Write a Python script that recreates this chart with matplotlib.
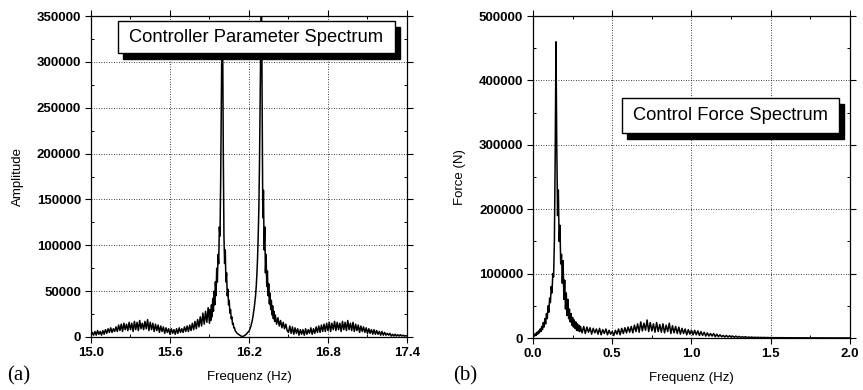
import matplotlib
matplotlib.use("Agg")
import matplotlib.pyplot as plt
import matplotlib.transforms as mtransforms
from matplotlib.patches import Rectangle
from matplotlib.ticker import MultipleLocator, FormatStrFormatter
import numpy as np

plt.rcParams["font.family"] = ["Liberation Sans", "DejaVu Sans"]

# ---- (a) controller parameter spectrum, amplitude in thousands ----
a_base1 = [1, 5, 2, 6, 2, 7, 3, 6, 2, 7,
           3, 8, 4, 9, 5, 10, 5, 9, 6, 11,
           6, 13, 7, 14, 6, 15, 8, 14, 7, 16,
           8, 15, 6, 17, 8, 16, 7, 18, 9, 15,
           8, 17, 9, 19, 7, 16, 8, 15, 6, 14,
           7, 13, 5, 12, 6, 11, 4, 10, 5, 9,
           3, 9, 4, 8, 3, 9, 4, 10, 5, 9,
           5, 11, 6, 12, 6, 13, 7, 15, 8, 17,
           9, 19, 11, 22, 12, 26, 14, 28, 16, 32]          # 15.00 .. 15.89
a_peak1 = [15, 30, 18, 35, 22, 42, 28, 50, 35, 60,
           45, 75, 60, 90, 80, 120, 110, 170, 250, 340,
           330, 200, 110, 80, 95, 60, 70, 45, 52, 35,
           40, 26, 30, 20, 22, 14, 15, 10, 10, 7, 6]         # 15.900 .. 16.100
a_gap = [4, 3, 2, 1, 0.5, 1, 2, 3, 5]                        # 16.11 .. 16.19
a_peak2 = [6, 8, 10, 12, 15, 18, 22, 27, 32, 38,
           45, 55, 68, 85, 110, 140, 190, 260, 330, 380,
           250, 130, 160, 95, 120, 70, 90, 55, 72, 45,
           58, 36, 48, 30, 40, 24, 34, 20, 28, 17, 24]       # 16.200 .. 16.400
a_base2 = [14, 21, 12, 18, 10, 16, 9, 14, 7,
           5, 12, 4, 11, 3, 10, 4, 9, 2, 8,
           3, 8, 2, 9, 3, 8, 4, 10, 3, 9,
           4, 11, 5, 12, 5, 13, 6, 14, 6, 15,
           7, 16, 6, 15, 8, 17, 7, 16, 8, 15,
           6, 17, 8, 16, 7, 18, 8, 15, 7, 16,
           6, 14, 7, 13, 5, 12, 6, 11, 5, 10,
           4, 9, 4, 8, 3, 8, 3, 7, 3, 6,
           2, 6, 2, 5, 2, 4, 2, 4, 1, 3,
           1, 3, 1, 2.5, 1, 2.5, 1, 2, 1, 1.5, 1]            # 16.41 .. 17.40

# ---- (b) control force spectrum, force in thousands of N ----
b_low = [2, 5, 3, 7, 4, 9, 6, 11, 8, 14,
         10, 18, 13, 24, 17, 30, 22, 38, 30, 50,
         40, 62, 55, 80, 70, 100, 95, 150, 280, 460,
         300, 190, 230, 150, 175, 115, 130, 85, 120, 60,
         90, 45, 70, 35, 60, 30, 45, 25, 38, 20,
         32, 17, 28, 15, 25, 12, 22, 11, 20, 10, 18]         # 0.000 .. 0.300
b_mid = [8, 18, 7, 17, 9, 16, 6, 15, 8, 14,
         6, 15, 5, 13, 7, 14, 5, 12, 6, 10,
         4, 12, 6, 14, 5, 15, 7, 16, 8, 17,
         9, 18, 8, 20, 10, 22, 9, 25, 11, 23,
         12, 28, 10, 24, 11, 22, 9, 24, 10, 21,
         9, 22, 8, 20, 10, 23, 7, 19, 8, 18,
         7, 17, 6, 15, 7, 14, 5, 13, 6, 12,
         5, 12, 5, 11, 4, 10, 4, 9, 3, 8,
         3, 7, 3, 7, 2, 6, 2, 5, 2, 4,
         1.5, 4, 1.5, 3.5, 1.5, 3, 1, 3, 1, 2.5,
         1, 2, 1, 2, 0.8, 1.5, 0.8, 1.5, 0.7, 1.2,
         0.6, 1.2, 0.6, 1, 0.5, 1, 0.5, 0.8, 0.5, 0.7]      # 0.31 .. 1.50
b_high = [0.5, 0.5, 0.4, 0.4, 0.4, 0.35, 0.35, 0.3, 0.3, 0.3,
          0.3, 0.25, 0.25, 0.25, 0.2, 0.2, 0.2, 0.2, 0.2, 0.15,
          0.15, 0.15, 0.15, 0.1, 0.1]                        # 1.52 .. 2.00

freq_a = np.concatenate([
    np.linspace(15.00, 15.89, len(a_base1)),
    np.linspace(15.90, 16.10, len(a_peak1)),
    np.linspace(16.11, 16.19, len(a_gap)),
    np.linspace(16.20, 16.40, len(a_peak2)),
    np.linspace(16.41, 17.40, len(a_base2)),
])
amp_a = np.array(a_base1 + a_peak1 + a_gap + a_peak2 + a_base2) * 1000

freq_b = np.concatenate([
    np.linspace(0.00, 0.30, len(b_low)),
    np.linspace(0.31, 1.50, len(b_mid)),
    np.linspace(1.52, 2.00, len(b_high)),
])
force_b = np.array(b_low + b_mid + b_high) * 1000

fig = plt.figure(figsize=(8.63, 3.9), dpi=100)
ax1 = fig.add_axes([0.1054, 0.1359, 0.3662, 0.823])
ax2 = fig.add_axes([0.6176, 0.1333, 0.3673, 0.8256])


def style(ax, xmaj, xmin, ymaj, ymin):
    ax.xaxis.set_major_locator(MultipleLocator(xmaj))
    ax.xaxis.set_minor_locator(MultipleLocator(xmin))
    ax.yaxis.set_major_locator(MultipleLocator(ymaj))
    ax.yaxis.set_minor_locator(MultipleLocator(ymin))
    ax.xaxis.set_major_formatter(FormatStrFormatter("%.1f"))
    ax.grid(True, which="major", color="black", linestyle=(0, (1, 2)), linewidth=0.6)
    ax.tick_params(which="major", direction="out", length=4, width=0.8,
                   labelsize=9.5, pad=3, top=True, right=True)
    ax.tick_params(which="minor", direction="in", length=2.5, width=0.7,
                   top=True, right=True)
    for lab in ax.get_xticklabels() + ax.get_yticklabels():
        lab.set_fontweight("bold")
    for sp in ax.spines.values():
        sp.set_linewidth(0.9)


def title_box(ax, x0, y0, x1, y1, text):
    shadow_tr = mtransforms.offset_copy(ax.transAxes, fig=fig, x=5, y=-6, units="dots")
    ax.add_patch(Rectangle((x0, y0), x1 - x0, y1 - y0, transform=shadow_tr,
                           facecolor="black", edgecolor="black", zorder=5, clip_on=False))
    ax.add_patch(Rectangle((x0, y0), x1 - x0, y1 - y0, transform=ax.transAxes,
                           facecolor="white", edgecolor="black", linewidth=1.0,
                           zorder=6, clip_on=False))
    ax.text((x0 + x1) / 2, (y0 + y1) / 2, text, transform=ax.transAxes,
            ha="center", va="center", fontsize=13.2, zorder=7)


ax1.plot(freq_a, amp_a, color="black", linewidth=1.1)
ax1.set_xlim(15.0, 17.4)
ax1.set_ylim(0, 350000)
style(ax1, 0.6, 0.3, 50000, 25000)
ax1.set_xlabel("Frequenz (Hz)", fontsize=9.5, labelpad=9)
ax1.set_ylabel("Amplitude", fontsize=9.5, labelpad=9)
title_box(ax1, 0.085, 0.885, 0.962, 0.984, "Controller Parameter Spectrum")

ax2.plot(freq_b, force_b, color="black", linewidth=1.1)
ax2.set_xlim(0.0, 2.0)
ax2.set_ylim(0, 500000)
style(ax2, 0.5, 0.25, 100000, 50000)
ax2.set_xlabel("Frequenz (Hz)", fontsize=9.5, labelpad=9)
ax2.set_ylabel("Force (N)", fontsize=9.5, labelpad=9)
title_box(ax2, 0.281, 0.637, 0.965, 0.745, "Control Force Spectrum")

fig.text(7 / 863, 1 - 376 / 390, "(a)", family=["Liberation Serif", "DejaVu Serif"],
         fontsize=15, ha="left", va="center")
fig.text(453 / 863, 1 - 376 / 390, "(b)", family=["Liberation Serif", "DejaVu Serif"],
         fontsize=15, ha="left", va="center")

fig.savefig("out.png", dpi=100)
